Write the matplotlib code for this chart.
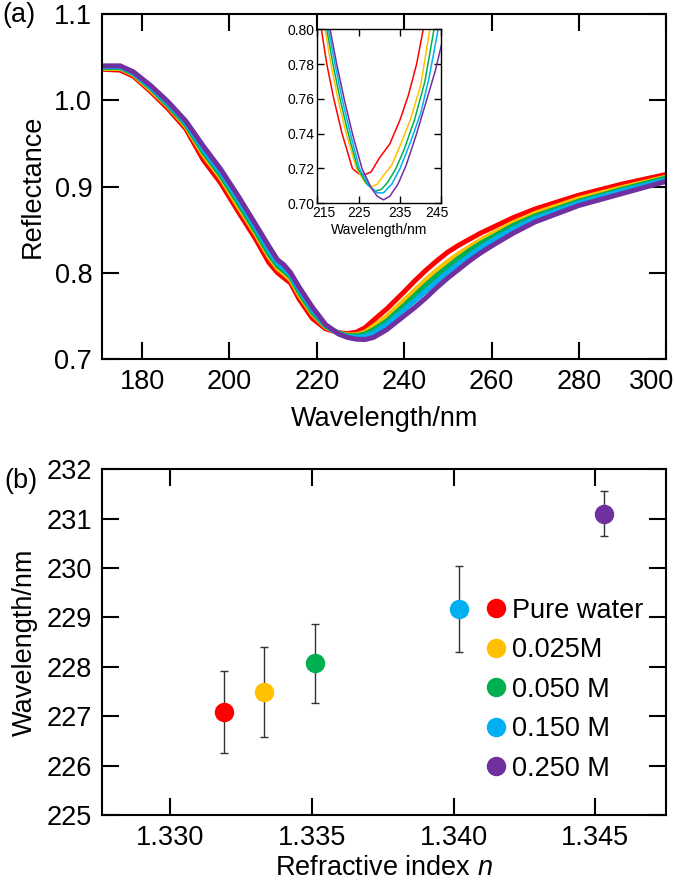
import matplotlib
matplotlib.use('Agg')
import matplotlib.pyplot as plt
import matplotlib.transforms as mtrans
from matplotlib.ticker import FormatStrFormatter

plt.rcParams['font.family'] = ['Liberation Sans', 'DejaVu Sans']
plt.rcParams['mathtext.fontset'] = 'custom'
plt.rcParams['mathtext.rm'] = 'Liberation Sans'
plt.rcParams['mathtext.it'] = 'Liberation Sans:italic'

# ---- panel (a): reflectance spectra ----
wl = [171, 175, 178, 182, 186, 190, 194, 198, 202, 206, 209, 211, 212.5, 214, 216, 219,
      222, 225, 227, 229, 231, 233, 236, 240, 242.5, 245, 247.5, 250, 252.5, 255, 257.5,
      260, 265, 270, 280, 290, 300]
r_water = [1.036, 1.035, 1.028, 1.010, 0.990, 0.967, 0.931, 0.904, 0.871, 0.839, 0.812, 0.800,
           0.794, 0.788, 0.769, 0.747, 0.735, 0.7305, 0.7295, 0.731, 0.736, 0.745, 0.758, 0.778,
           0.791, 0.803, 0.814, 0.824, 0.832, 0.839, 0.846, 0.852, 0.864, 0.874, 0.890, 0.903, 0.914]
r_025 = [1.037, 1.037, 1.030, 1.012, 0.993, 0.970, 0.937, 0.910, 0.877, 0.845, 0.819, 0.805,
         0.799, 0.792, 0.774, 0.752, 0.737, 0.730, 0.728, 0.728, 0.731, 0.738, 0.749, 0.768,
         0.780, 0.792, 0.803, 0.813, 0.822, 0.830, 0.838, 0.845, 0.858, 0.869, 0.886, 0.899, 0.911]
r_050 = [1.038, 1.038, 1.031, 1.014, 0.994, 0.972, 0.940, 0.913, 0.881, 0.848, 0.822, 0.808,
         0.802, 0.795, 0.777, 0.754, 0.738, 0.730, 0.727, 0.727, 0.729, 0.734, 0.744, 0.762,
         0.774, 0.786, 0.797, 0.807, 0.817, 0.826, 0.834, 0.841, 0.855, 0.866, 0.883, 0.897, 0.910]
r_150 = [1.039, 1.039, 1.032, 1.015, 0.996, 0.974, 0.943, 0.916, 0.885, 0.852, 0.826, 0.811,
         0.805, 0.797, 0.780, 0.757, 0.739, 0.729, 0.726, 0.725, 0.726, 0.730, 0.740, 0.757,
         0.768, 0.779, 0.790, 0.801, 0.811, 0.820, 0.829, 0.837, 0.851, 0.863, 0.881, 0.895, 0.908]
r_250 = [1.040, 1.040, 1.033, 1.017, 0.998, 0.976, 0.947, 0.920, 0.889, 0.856, 0.831, 0.815,
         0.809, 0.800, 0.783, 0.760, 0.740, 0.729, 0.725, 0.723, 0.7225, 0.725, 0.734, 0.750,
         0.760, 0.771, 0.783, 0.794, 0.804, 0.814, 0.823, 0.831, 0.846, 0.859, 0.878, 0.892, 0.906]

# ---- inset: zoom near the dip ----
in_wl_water = [216.0, 217.3, 219.0, 221.0, 223.5, 225, 226.5, 228, 230, 232.5, 235, 237, 239, 240.6]
in_r_water = [0.80, 0.78, 0.76, 0.74, 0.72, 0.717, 0.7165, 0.718, 0.726, 0.734, 0.748, 0.762, 0.78, 0.80]
in_wl_025 = [216.9, 218.3, 220, 222, 224.5, 226.5, 228, 229.5, 231, 233, 235, 237.5, 240, 242.2]
in_r_025 = [0.80, 0.78, 0.76, 0.74, 0.72, 0.712, 0.7095, 0.711, 0.716, 0.722, 0.733, 0.748, 0.768, 0.80]
in_wl_050 = [217.3, 218.8, 220.5, 222.5, 224.8, 227, 229, 230.5, 232, 234, 236, 238.5, 241, 243.2]
in_r_050 = [0.80, 0.78, 0.76, 0.74, 0.72, 0.711, 0.707, 0.708, 0.712, 0.72, 0.731, 0.748, 0.77, 0.80]
in_wl_150 = [217.7, 219.3, 221, 223, 225.2, 227.5, 229.5, 231, 233, 235, 237.5, 240, 242, 244.2]
in_r_150 = [0.80, 0.78, 0.76, 0.74, 0.72, 0.71, 0.706, 0.706, 0.711, 0.72, 0.735, 0.752, 0.772, 0.80]
in_wl_250 = [218.1, 219.7, 221.5, 223.5, 225.8, 228, 229.5, 231, 232.5, 234.5, 236.5, 239, 241.5, 243.5, 245]
in_r_250 = [0.80, 0.78, 0.76, 0.74, 0.72, 0.709, 0.704, 0.702, 0.704, 0.711, 0.722, 0.74, 0.76, 0.776, 0.791]

# ---- panel (b): dip wavelength vs refractive index ----
labels = ['Pure water', '0.025M', '0.050 M', '0.150 M', '0.250 M']
n_index = [1.3319, 1.3333, 1.3351, 1.3402, 1.3453]
dip_wl = [227.09, 227.49, 228.07, 229.17, 231.10]
dip_err = [0.83, 0.92, 0.80, 0.87, 0.46]

colors = ['#FF0000', '#FFC000', '#00B050', '#00B0F0', '#7030A0']

fig = plt.figure(figsize=(6.75, 8.82), dpi=100)

ax1 = fig.add_axes([0.151, 0.593, 0.836, 0.391])
spectra = [r_water, r_025, r_050, r_150, r_250]
for r, c in zip(spectra, colors):
    ax1.plot(wl, r, color=c, lw=3.6, solid_capstyle='round', solid_joinstyle='round')
ax1.set_xlim(170.8, 300)
ax1.set_ylim(0.7, 1.1)
ax1.set_xticks([180, 200, 220, 240, 260, 280, 300])
ax1.set_yticks([0.7, 0.8, 0.9, 1.0, 1.1])
ax1.yaxis.set_major_formatter(FormatStrFormatter('%.1f'))
ax1.set_xlabel('Wavelength/nm', fontsize=19.5, labelpad=8)
ax1.set_ylabel('Reflectance', fontsize=19.5, labelpad=6)
fig.text(0.003, 0.983, '(a)', fontsize=19.5, va='center', ha='left')

ins = fig.add_axes([0.470, 0.7695, 0.184, 0.1973])
ins.set_facecolor('white')
inset_x = [in_wl_water, in_wl_025, in_wl_050, in_wl_150, in_wl_250]
inset_y = [in_r_water, in_r_025, in_r_050, in_r_150, in_r_250]
for x, y, c in zip(inset_x, inset_y, colors):
    ins.plot(x, y, color=c, lw=1.1)
ins.set_xlim(215, 245)
ins.set_ylim(0.70, 0.80)
ins.set_xticks([215, 225, 235, 245])
ins.set_yticks([0.70, 0.72, 0.74, 0.76, 0.78, 0.80])
ins.yaxis.set_major_formatter(FormatStrFormatter('%.2f'))
ins.set_xlabel('Wavelength/nm', fontsize=10, labelpad=2)
ins.tick_params(direction='in', top=True, right=True, length=5, width=1,
                labelsize=10, pad=2)
for s in ins.spines.values():
    s.set_linewidth(1)

ax2 = fig.add_axes([0.151, 0.076, 0.836, 0.392])
for x, y, e, c, lab in zip(n_index, dip_wl, dip_err, colors, labels):
    ax2.errorbar(x, y, yerr=e, fmt='none', ecolor='#333333', elinewidth=1,
                 capsize=3, capthick=1, zorder=2)
    ax2.plot(x, y, 'o', color=c, markersize=13, label=lab, zorder=3)
ax2.set_xlim(1.3276, 1.3475)
ax2.set_ylim(225, 232)
ax2.set_xticks([1.330, 1.335, 1.340, 1.345])
ax2.set_yticks([225, 226, 227, 228, 229, 230, 231, 232])
ax2.xaxis.set_major_formatter(FormatStrFormatter('%.3f'))
ax2.set_xlabel('Refractive index $\\mathit{n}$', fontsize=19.5, labelpad=3)
ax2.set_ylabel('Wavelength/nm', fontsize=19.5, labelpad=6)
fig.text(0.006, 0.455, '(b)', fontsize=19.5, va='center', ha='left')
ax2.legend(loc='center left', bbox_to_anchor=(0.645, 0.362), frameon=False,
           fontsize=19.5, handletextpad=0.0, labelspacing=0.5, borderpad=0,
           handlelength=1.2)

for ax in (ax1, ax2):
    ax.tick_params(direction='in', top=True, right=True, length=12, width=1.5,
                   labelsize=19.5, pad=7)
    for s in ax.spines.values():
        s.set_linewidth(1.5)

fig.canvas.draw()


def shift_label(lab, dx_px):
    lab.set_transform(lab.get_transform() +
                      mtrans.ScaledTranslation(dx_px / 100, 0, fig.dpi_scale_trans))


# keep the edge tick labels inside, as in the original
shift_label(ax1.get_xticklabels()[-1], -15)
ins_labels = ins.get_xticklabels()
shift_label(ins_labels[0], 7)
shift_label(ins_labels[-1], -5)

fig.savefig('out.png', dpi=100)
